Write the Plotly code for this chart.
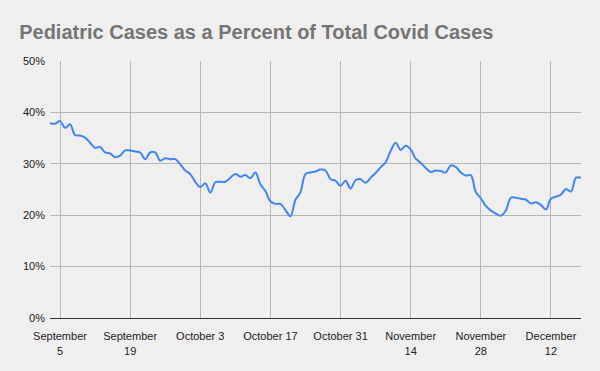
import datetime as dt
import plotly.graph_objects as go

start_date = dt.date(2020, 9, 3)
pct_values = [
    37.9, 37.8, 38.3, 37.0, 37.7, 35.6, 35.5, 35.1, 34.1, 33.1,
    33.3, 32.2, 32.0, 31.3, 31.6, 32.6, 32.6, 32.4, 32.2, 30.9,
    32.2, 32.2, 30.6, 31.1, 30.9, 30.9, 29.9, 28.7,
    28.0, 26.5, 25.5, 26.2, 24.4, 26.4, 26.5, 26.5, 27.3, 28.0,
    27.5, 27.8, 27.2, 28.3, 26.0, 24.7, 22.7, 22.2, 22.2, 21.0,
    19.8, 23.0, 24.5, 28.0, 28.3, 28.5, 28.9, 28.7, 27.0, 26.7,
    25.7,
    26.7, 25.2, 26.8, 27.0, 26.3, 27.3, 28.2, 29.3, 30.3, 32.5,
    34.1, 32.7, 33.5, 32.8, 31.0, 30.2, 29.2, 28.4, 28.7, 28.6,
    28.3, 29.7, 29.4, 28.3, 27.7, 27.8, 24.5, 23.3, 21.8, 20.9,
    20.3, 19.9, 20.9, 23.4, 23.4, 23.2, 23.0, 22.3, 22.5, 22.0,
    21.1, 23.2, 23.6, 24.0, 25.1, 24.6, 27.3, 27.3,
]
dates = [start_date + dt.timedelta(days=i) for i in range(len(pct_values))]

tick_dates = ["2020-09-05", "2020-09-19", "2020-10-03", "2020-10-17",
              "2020-10-31", "2020-11-14", "2020-11-28", "2020-12-12"]
tick_labels = ["September<br>5", "September<br>19", "October 3", "October 17",
               "October 31", "November<br>14", "November<br>28", "December<br>12"]
y_ticks = [0, 10, 20, 30, 40, 50]
y_labels = ["0%", "10%", "20%", "30%", "40%", "50%"]

fig = go.Figure(go.Scatter(
    x=dates, y=pct_values, mode="lines",
    line=dict(color="#4285F4", width=2, shape="spline", smoothing=1),
    hoverinfo="skip",
))

fig.update_layout(
    width=600, height=371,
    paper_bgcolor="#efefef", plot_bgcolor="#efefef",
    margin=dict(l=50, r=19, t=61, b=53, autoexpand=False),
    showlegend=False,
    font=dict(family="Liberation Sans, Arial, sans-serif", size=11, color="#222222"),
    title=dict(text="<b>Pediatric Cases as a Percent of Total Covid Cases</b>",
               x=0.032, xanchor="left", y=0.915, yanchor="middle",
               font=dict(size=20, color="#757575", family="Liberation Sans, Arial, sans-serif"),
               automargin=False),
)
fig.update_xaxes(
    range=["2020-09-03", "2020-12-18"],
    tickvals=tick_dates, ticktext=tick_labels,
    showgrid=True, gridcolor="#b7b7b7", gridwidth=1,
    showline=True, linecolor="#333333", linewidth=1,
    ticks="", zeroline=False, tickfont=dict(size=11, color="#222222"),
    automargin=False, ticklabelstandoff=8,
)
fig.update_yaxes(
    range=[0, 50], tickvals=y_ticks, ticktext=y_labels,
    showgrid=True, gridcolor="#b7b7b7", gridwidth=1,
    zeroline=False, ticks="", tickfont=dict(size=11, color="#222222"),
    automargin=False, ticklabelstandoff=4,
)

fig.write_html(
    "out.html",
    config={"displayModeBar": False},
    post_script="document.body.style.margin='0';document.body.style.background='#efefef';",
)
